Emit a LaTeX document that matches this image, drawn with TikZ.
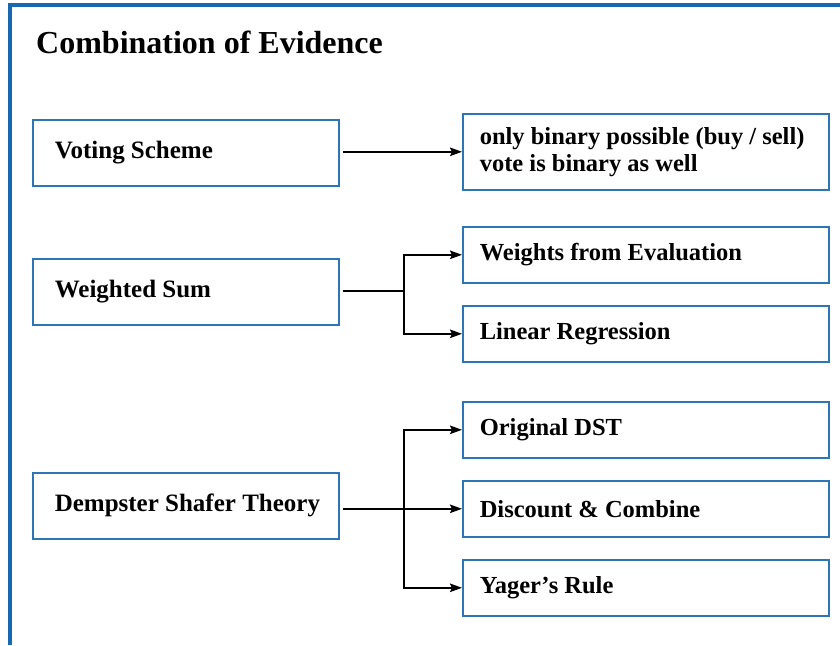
\documentclass[tikz,border=0pt]{standalone}
\usepackage{fontspec}
\setmainfont{Liberation Serif}
\usetikzlibrary{arrows.meta}
\definecolor{frameblue}{HTML}{1767B1}
\definecolor{boxblue}{HTML}{2E75B6}
\newcommand{\lline}[1]{\makebox[262pt][l]{#1}}
\newcommand{\rline}[1]{\makebox[332pt][l]{#1}}
\tikzset{
  leftbox/.style={draw=boxblue, line width=1.6pt, rectangle, anchor=north west,
    minimum width=306pt, minimum height=66pt, inner xsep=22pt,
    align=left, font=\bfseries\fontsize{25}{26}\selectfont},
  rightbox/.style={draw=boxblue, line width=1.6pt, rectangle, anchor=north west,
    minimum width=366pt, minimum height=56pt, inner xsep=17pt,
    align=left, font=\bfseries\fontsize{24.5}{27}\selectfont},
  link/.style={line width=1.7pt, black},
  arr/.style={link, -{Stealth[length=12pt,width=8.5pt,inset=2pt]}},
}
\begin{document}
\begin{tikzpicture}[x=1pt, y=-1pt]
\useasboundingbox (0,0) rectangle (840,645);
\fill[white] (0,0) rectangle (840,645);
% frame along the top and left side
\draw[frameblue, line width=3.5pt] (8,5) -- (840,5);
\draw[frameblue, line width=4pt] (10,4) -- (10,645);
% title
\node[anchor=base west, inner sep=0pt, font=\bfseries\fontsize{32}{34}\selectfont] (title) at (36,53) {Combination of Evidence};
% methods
\node[leftbox] (vs) at (32,119) {\lline{Voting Scheme}};
\node[leftbox] (ws) at (32,258) {\lline{Weighted Sum}};
\node[leftbox] (ds) at (32,472) {\lline{Dempster Shafer Theory}};
% details
\node[rightbox, minimum height=76pt] (v1) at (462,113) {\rline{only binary possible (buy / sell)}\\\rline{vote is binary as well}};
\node[rightbox] (w1) at (462,226) {\rline{Weights from Evaluation}};
\node[rightbox] (w2) at (462,305) {\rline{Linear Regression}};
\node[rightbox] (d1) at (462,401) {\rline{Original DST}};
\node[rightbox] (d2) at (462,480) {\rline{Discount \& Combine}};
\node[rightbox] (d3) at (462,559) {\rline{Yager's Rule}};
% connectors
\draw[arr] ([xshift=3pt]vs.east |- v1.west) -- (v1.west);
\coordinate (wj) at (404,291);
\draw[link] ([xshift=3pt]vs.east |- wj) -- ([xshift=0.85pt]wj);
\draw[link] (wj |- w1.west) -- (wj |- w2.west);
\draw[arr] ([xshift=-0.85pt]wj |- w1.west) -- (w1.west);
\draw[arr] ([xshift=-0.85pt]wj |- w2.west) -- (w2.west);
\coordinate (dj) at (404,508);
\draw[arr] ([xshift=3pt]ds.east |- d2.west) -- (d2.west);
\draw[link] (dj |- d1.west) -- (dj |- d3.west);
\draw[arr] ([xshift=-0.85pt]dj |- d1.west) -- (d1.west);
\draw[arr] ([xshift=-0.85pt]dj |- d3.west) -- (d3.west);
\end{tikzpicture}
\end{document}
